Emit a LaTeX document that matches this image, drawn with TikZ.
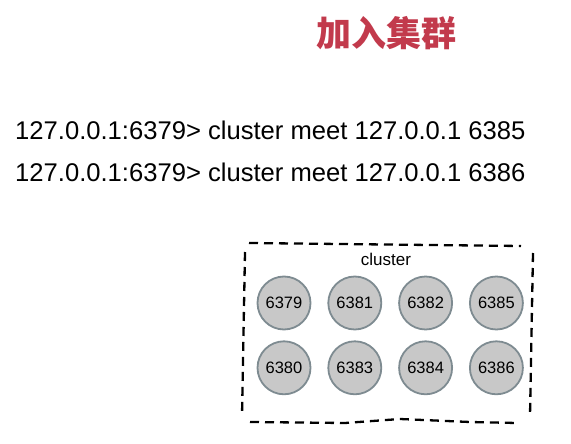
\documentclass[tikz,border=0pt]{standalone}
\usepackage{fontspec}
\setmainfont{Liberation Sans}
\newfontfamily\cjk{Noto Sans CJK SC}
\usetikzlibrary{positioning}
\definecolor{colorTitulo}{HTML}{C23A4C}
\definecolor{rellenoNodo}{HTML}{C8C8C8}
\definecolor{bordeNodo}{HTML}{7E8B91}

\begin{document}
\begin{tikzpicture}[x=1pt, y=-1pt, node distance=16pt,
        nd/.style={circle, draw=bordeNodo, fill=rellenoNodo, line width=1.8pt,
            minimum size=53pt, inner sep=0pt, font=\fontsize{16.5}{16.5}\selectfont},
        cmd/.style={anchor=west, inner sep=0pt, font=\fontsize{25.6}{25.6}\selectfont},
        borde/.style={line width=2.3pt, dash pattern=on 9pt off 6pt}]
    \useasboundingbox (0,0) rectangle (571,444);
    \node[text=colorTitulo, font=\cjk\bfseries\fontsize{35}{35}\selectfont] (titulo) at (386,33) {加入集群};
    \node[cmd] (m1) at (15,130) {127.0.0.1:6379> cluster meet 127.0.0.1 6385};
    \node[cmd] (m2) at (15,172) {127.0.0.1:6379> cluster meet 127.0.0.1 6386};
    % nodos del cluster
    \node[nd] (n6379) at (284,303) {6379};
    \node[nd, right=of n6379] (n6381) {6381};
    \node[nd, right=of n6381] (n6382) {6382};
    \node[nd, right=of n6382] (n6385) {6385};
    \node[nd, below=10pt of n6379] (n6380) {6380};
    \node[nd, below=10pt of n6381] (n6383) {6383};
    \node[nd, below=10pt of n6382] (n6384) {6384};
    \node[nd, below=10pt of n6385] (n6386) {6386};
    \node[font=\fontsize{17}{17}\selectfont] (etiqueta) at (386,259) {cluster};
    % borde a mano
    \draw[borde] (249,243) -- (521,246);
    \draw[borde] (533,253) -- (530,416);
    \draw[borde] (250,422) -- (345,423) -- (400,419) -- (470,422) -- (517,423);
    \draw[borde] (245,252) -- (242,416);
\end{tikzpicture}
\end{document}
